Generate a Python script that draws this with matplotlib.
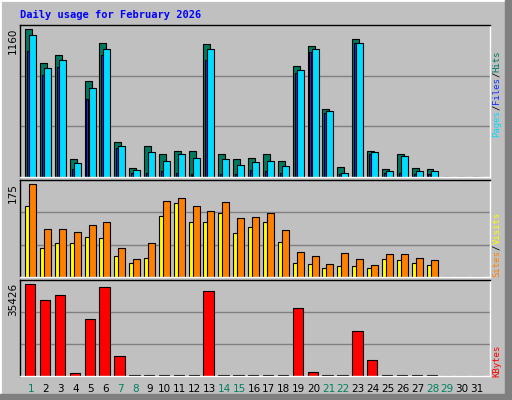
import matplotlib
matplotlib.use("Agg")
import matplotlib.pyplot as plt
from matplotlib.patches import Rectangle
import numpy as np

days = list(range(1, 32))
hits = [1132, 870, 932, 141, 732, 1024, 264, 72, 233, 172, 202, 195, 1016, 172, 141, 148,
        172, 125, 847, 1001, 517, 79, 1055, 195, 64, 179, 72, 64, 0, 0, 0]
files = [1080, 832, 894, 110, 678, 978, 233, 56, 187, 125, 179, 148, 978, 141, 95, 118,
         125, 87, 817, 978, 502, 33, 1024, 187, 49, 164, 49, 49, 0, 0, 0]
pages = [965, 781, 842, 59, 596, 934, 225, 33, 33, 44, 33, 26, 893, 26, 26, 51,
         44, 33, 794, 955, 486, 20, 1024, 179, 33, 33, 26, 26, 0, 0, 0]
sites = [128, 53, 61, 62, 73, 70, 37, 26, 35, 110, 133, 100, 99, 115, 79, 90,
         99, 64, 26, 24, 17, 19, 19, 17, 33, 30, 26, 22, 0, 0, 0]
visits = [168, 86, 86, 82, 93, 100, 53, 33, 62, 137, 142, 128, 119, 135, 106, 108,
          115, 84, 46, 37, 24, 44, 33, 21, 42, 41, 35, 30, 0, 0, 0]
kbytes = [33940, 28100, 29840, 1120, 20880, 32820, 7210, 300, 300, 300, 300, 300, 31330,
          300, 300, 300, 300, 300, 24990, 1490, 300, 300, 16780, 5970, 300, 300, 300, 300, 0, 0, 0]
weekend = [1, 7, 8, 14, 15, 21, 22, 28, 29]
max_hits, max_visits, max_kb = 1160, 175, 35426

W, H = 512, 400
fig = plt.figure(figsize=(5.12, 4.0), dpi=100)
fig.patch.set_facecolor("#c0c0c0")
fig.add_artist(Rectangle((0, 0), 1, 1, transform=fig.transFigure, fill=False, ec="white", lw=2))
fig.add_artist(Rectangle((505/W, 0), 7/W, 1, transform=fig.transFigure, color="#808080"))
fig.add_artist(Rectangle((0, 0), 1, 6/H, transform=fig.transFigure, color="#808080"))

mono = "DejaVu Sans Mono"
fig.text(20/W, 1 - 15/H, "Daily usage for February 2026", color="#0000ff", fontsize=7.5,
         fontweight="bold", family=mono, va="center", ha="left")

x = np.array(days)
def mkax(top, bot):
    ax = fig.add_axes([20/W, 1 - bot/H, 470/W, (bot - top)/H])
    ax.set_facecolor("#c0c0c0")
    ax.set_xlim(0.26, 31.87)
    ax.set_xticks([]); ax.set_yticks([])
    for s in ax.spines.values():
        s.set_color("black"); s.set_linewidth(1)
    ax.spines["bottom"].set_color("white"); ax.spines["right"].set_color("white")
    return ax

def ylab(val, top):
    fig.text(13/W, 1 - (top + 3)/H, str(val), rotation=90, ha="center", va="top", fontsize=7.5)

ec = dict(edgecolor="black", linewidth=0.8, align="edge")
ax1 = mkax(25, 177)
ax1.set_ylim(0, max_hits)
for g in (1/3, 2/3):
    ax1.axhline(max_hits*g, color="#808080", lw=1, zorder=0)
ax1.bar(x - 0.4, hits, 0.47, color="#007860", **ec)
ax1.bar(x - 0.27, pages, 0.13, color="#1030ff", **ec)
ax1.bar(x - 0.13, files, 0.47, color="#00dcff", **ec)
ylab(max_hits, 25)

ax2 = mkax(180, 277)
ax2.set_ylim(0, max_visits)
for g in (1/3, 2/3):
    ax2.axhline(max_visits*g, color="#808080", lw=1, zorder=0)
ax2.bar(x - 0.4, sites, 0.37, color="#ffff00", **ec)
ax2.bar(x - 0.13, visits, 0.47, color="#ff8000", **ec)
ylab(max_visits, 180)

ax3 = mkax(280, 376)
ax3.set_ylim(0, max_kb)
for g in (1/3, 2/3):
    ax3.axhline(max_kb*g, color="#808080", lw=1, zorder=0)
ax3.bar(x - 0.4, kbytes, 0.7, color="#ff0000", **ec)
ylab(max_kb, 280)

for d in days:
    xf = (20 + (d - 0.26) / (31.87 - 0.26) * 470) / W
    fig.text(xf, 1 - 389/H, str(d), ha="center", va="center", fontsize=7.5,
             color="#008060" if d in weekend else "black")

def vlabel(segs, ybottom):
    y = ybottom
    for s, c in segs:
        fig.text(497/W, 1 - y/H, s, rotation=90, ha="center", va="bottom", fontsize=6.5,
                 family=mono, color=c)
        y -= len(s) * 5.45
vlabel([("Pages", "#00dcff"), ("/", "black"), ("Files", "#1030ff"), ("/", "black"), ("Hits", "#007860")], 137)
vlabel([("Sites", "#ff8000"), ("/", "black"), ("Visits", "#ffff00")], 277)
vlabel([("KBytes", "#ff0000")], 377)

fig.savefig("out.png", dpi=100, facecolor=fig.get_facecolor())
